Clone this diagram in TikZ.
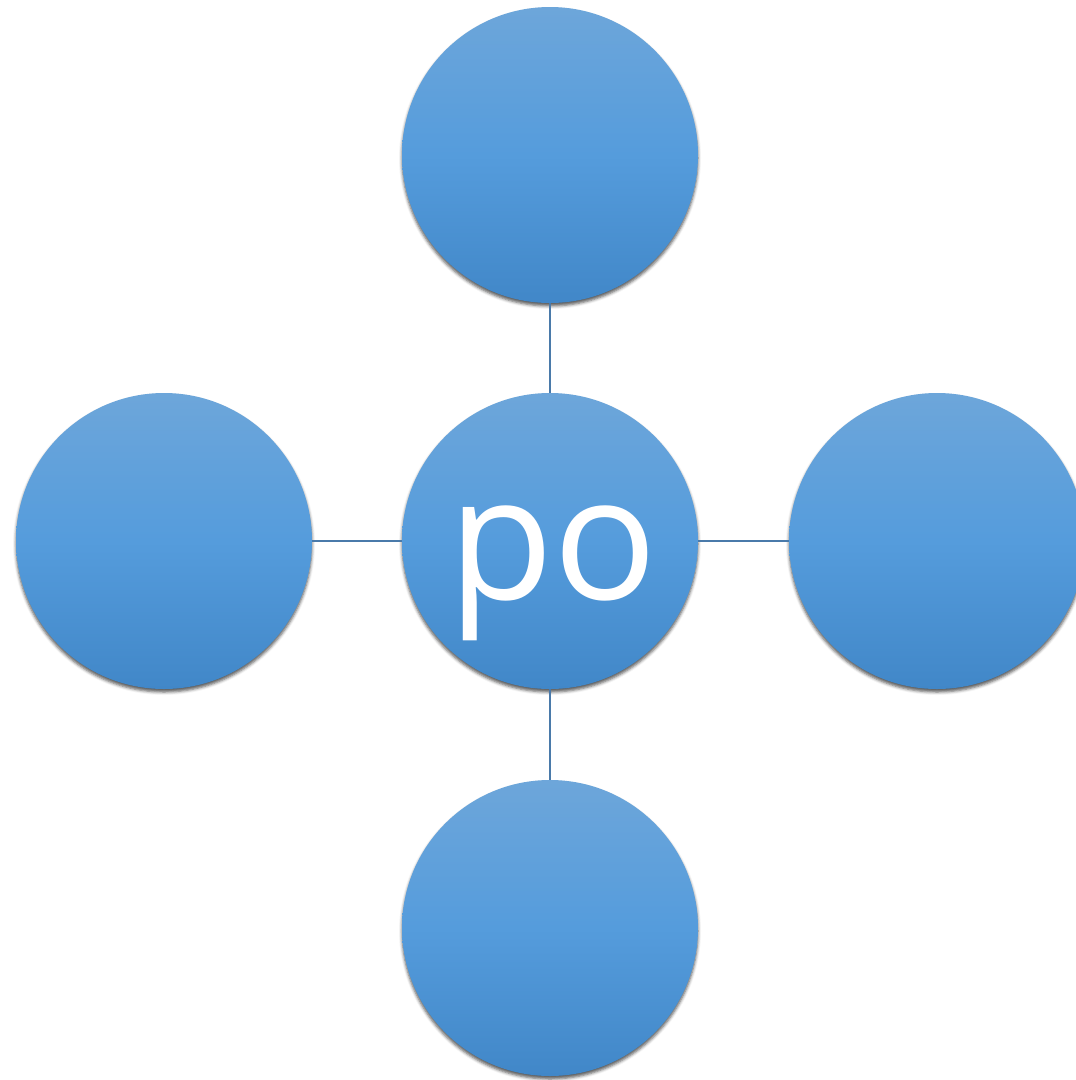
\documentclass[tikz,border=0pt]{standalone}
\usepackage{fontspec}
\setmainfont{Open Sans}
\usetikzlibrary{shadows.blur}
\definecolor{ctop}{HTML}{6DA6DA}
\definecolor{cmid}{HTML}{559CDC}
\definecolor{cbot}{HTML}{4187C8}
\definecolor{linec}{HTML}{4A7AAA}
\begin{document}
\begin{tikzpicture}[x=1pt,y=-1pt,
  bubble/.style={circle, minimum size=296pt, inner sep=0pt,
    top color=ctop, bottom color=cbot, middle color=cmid,
    blur shadow={shadow xshift=0pt, shadow yshift=-3pt, shadow blur radius=3pt, shadow opacity=65}},
  link/.style={draw=linec, line width=2pt}]
\useasboundingbox (0,0) rectangle (1076,1080);
\node[bubble] (c) at (550,541) {};
\node[bubble] (t) at (550,155) {};
\node[bubble] (l) at (164,541) {};
\node[bubble] (r) at (937,541) {};
\node[bubble] (b) at (550,928) {};
\draw[link] (t.south) -- (c.north);
\draw[link] (c.south) -- (b.north);
\draw[link] (l.east) -- (c.west);
\draw[link] (c.east) -- (r.west);
\node[text=white, font=\fontsize{172}{172}\selectfont, inner sep=0pt] (lbl) at (553,573) {po};
\end{tikzpicture}
\end{document}
